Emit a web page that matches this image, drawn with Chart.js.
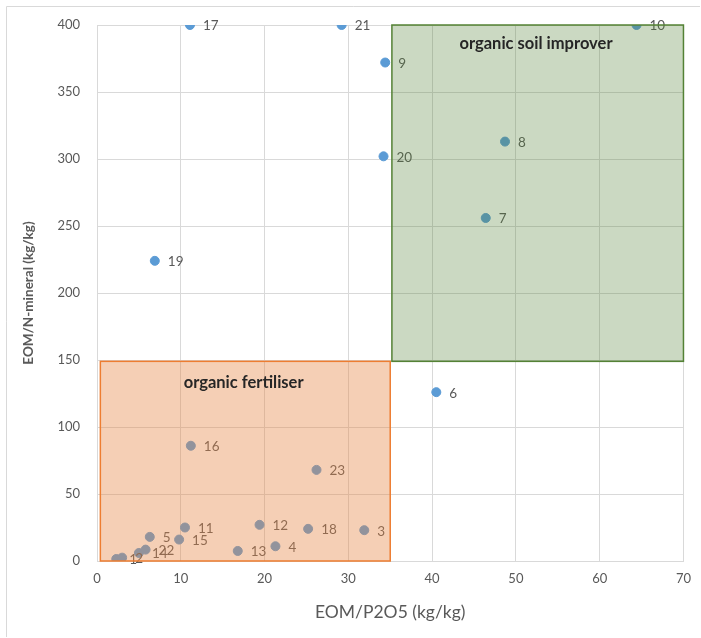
<!DOCTYPE html>
<html>
<head>
<meta charset="utf-8">
<script src="https://cdn.jsdelivr.net/npm/chart.js@4"></script>
<style>
  body { margin: 0; background: #fff; }
  #wrap { width: 701px; height: 638px; }
</style>
</head>
<body>
<div id="wrap"><canvas id="chart"></canvas></div>
<script>
// sample numbers and their values
const ids = [1, 2, 3, 4, 5, 6, 7, 8, 9, 10, 11, 12, 13, 14, 15, 16, 17, 18, 19, 20, 21, 22, 23];
const eomP2O5 = [2.3, 3.0, 31.9, 21.3, 6.3, 40.5, 46.4, 48.7, 34.4, 64.4, 10.5, 19.4, 16.8, 5.0, 9.8, 11.2, 11.1, 25.2, 6.9, 34.2, 29.2, 5.8, 26.2];
const eomNmin = [1.5, 2.5, 23, 11, 18, 126, 256, 313, 372, 400, 25, 27, 7.5, 6.0, 16, 86, 400, 24, 224, 302, 400, 8.5, 68];

// zones: x from/to, y from/to, label
const boxNames = ["organic fertiliser", "organic soil improver"];
const boxX = [[0.4, 35], [35.2, 70]];
const boxY = [[0, 149], [149, 400]];
const boxLabelAt = [[17.5, 133], [52.4, 386]];
const boxFill = ["rgba(230,135,70,0.4)", "rgba(84,130,53,0.3)"];
const boxLine = ["#ed7d31", "#548235"];

const xTicks = [0, 10, 20, 30, 40, 50, 60, 70];
const yTicks = [0, 50, 100, 150, 200, 250, 300, 350, 400];

const points = ids.map((id, i) => ({ x: eomP2O5[i], y: eomNmin[i], id: id }));

// point numbers next to each marker
const pointLabels = {
  id: "pointLabels",
  afterDatasetsDraw(chart) {
    const ctx = chart.ctx;
    const meta = chart.getDatasetMeta(0);
    ctx.save();
    ctx.font = "13.5px Lato";
    ctx.fillStyle = "#595959";
    ctx.textAlign = "left";
    ctx.textBaseline = "middle";
    meta.data.forEach((el, i) => {
      ctx.fillText(String(ids[i]), el.x + 13, el.y + 1);
    });
    ctx.restore();
  }
};

// shaded zones, drawn over the points like the excel shapes
const zones = {
  id: "zones",
  afterDraw(chart) {
    const ctx = chart.ctx;
    const sx = chart.scales.x, sy = chart.scales.y;
    ctx.save();
    boxNames.forEach((name, i) => {
      const x0 = sx.getPixelForValue(boxX[i][0]);
      const x1 = sx.getPixelForValue(boxX[i][1]);
      const y0 = sy.getPixelForValue(boxY[i][1]);
      const y1 = sy.getPixelForValue(boxY[i][0]);
      ctx.fillStyle = boxFill[i];
      ctx.fillRect(x0, y0, x1 - x0, y1 - y0);
      ctx.strokeStyle = boxLine[i];
      ctx.lineWidth = 1.5;
      ctx.strokeRect(x0, y0, x1 - x0, y1 - y0);
      ctx.font = "bold 16.5px Lato";
      ctx.fillStyle = "#262626";
      ctx.textAlign = "center";
      ctx.textBaseline = "middle";
      ctx.fillText(name, sx.getPixelForValue(boxLabelAt[i][0]), sy.getPixelForValue(boxLabelAt[i][1]));
    });
    // outer frame (top and left visible in the picture)
    ctx.strokeStyle = "#d9d9d9";
    ctx.lineWidth = 1;
    ctx.beginPath();
    ctx.moveTo(6.5, 637);
    ctx.lineTo(6.5, 6.5);
    ctx.lineTo(700, 6.5);
    ctx.stroke();
    ctx.restore();
  }
};

new Chart(document.getElementById("chart"), {
  type: "scatter",
  data: {
    datasets: [{
      data: points,
      backgroundColor: "#5b9bd5",
      borderColor: "#5b9bd5",
      pointRadius: 4.5,
      pointHoverRadius: 4.5
    }]
  },
  options: {
    responsive: true,
    maintainAspectRatio: false,
    animation: false,
    layout: { padding: { left: 0, top: 25, right: 16, bottom: 0 } },
    plugins: { legend: { display: false }, tooltip: { enabled: false } },
    scales: {
      x: {
        type: "linear",
        min: 0, max: 70,
        afterBuildTicks: s => { s.ticks = xTicks.map(v => ({ value: v })); },
        afterFit: s => { s.height = 77; },
        grid: { color: "#d9d9d9", drawTicks: false },
        border: { color: "#d9d9d9" },
        ticks: { color: "#595959", font: { family: "Lato", size: 13 }, padding: 10 },
        title: {
          display: true,
          text: "EOM/P2O5 (kg/kg)",
          color: "#595959",
          font: { family: "Lato", size: 17.5 },
          padding: { top: 4, bottom: 15 }
        }
      },
      y: {
        type: "linear",
        min: 0, max: 400,
        afterBuildTicks: s => { s.ticks = yTicks.map(v => ({ value: v })); },
        afterFit: s => { s.width = 97; },
        grid: { color: "#d9d9d9", drawTicks: false },
        border: { color: "#d9d9d9" },
        ticks: { color: "#595959", font: { family: "Lato", size: 13 }, padding: 17 },
        title: {
          display: true,
          text: "EOM/N-mineral (kg/kg)",
          color: "#595959",
          font: { family: "Lato", size: 13.5, weight: "bold" },
          padding: { top: 21, bottom: 0 }
        }
      }
    }
  },
  plugins: [pointLabels, zones]
});
</script>
</body>
</html>
